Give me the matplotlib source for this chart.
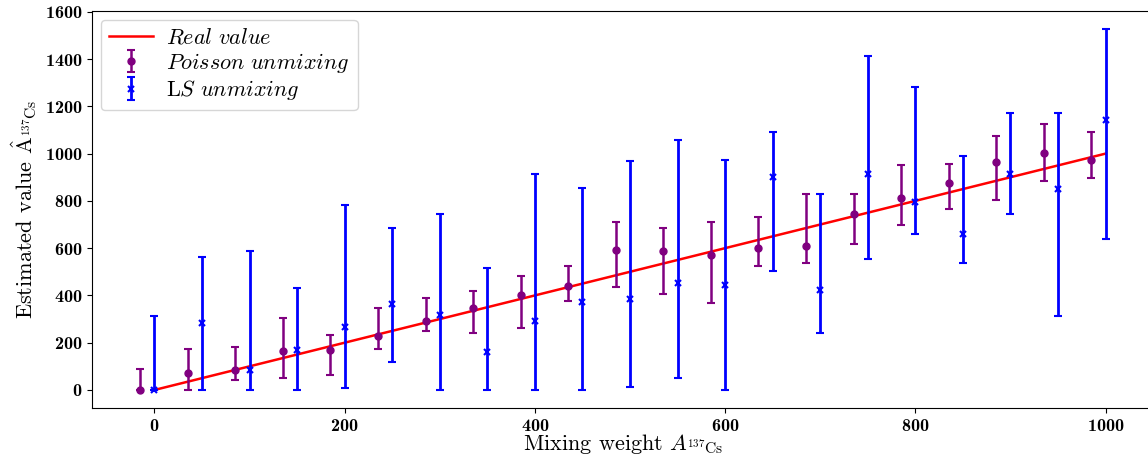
import matplotlib
matplotlib.use("Agg")
import matplotlib.pyplot as plt
import numpy as np

plt.rcParams["font.family"] = "serif"
plt.rcParams["font.serif"] = ["cmr10", "DejaVu Serif"]
plt.rcParams["mathtext.fontset"] = "cm"
plt.rcParams["axes.unicode_minus"] = False
plt.rcParams["axes.formatter.use_mathtext"] = True

# mixing weights
x_real = [0, 1000]
x_pois = [-15, 35, 85, 135, 185, 235, 285, 335, 385, 435, 485, 535, 585, 635, 685, 735, 785, 835, 885, 935, 985]
x_ls = [0, 50, 100, 150, 200, 250, 300, 350, 400, 450, 500, 550, 600, 650, 700, 750, 800, 850, 900, 950, 1000]

# Poisson unmixing estimates with lower/upper bounds
pois_val = [0, 73, 85, 165, 171, 229, 290, 345, 403, 441, 592, 588, 573, 602, 611, 743, 811, 874, 965, 1004, 975]
pois_low = [0, 0, 40, 50, 62, 175, 249, 243, 261, 378, 436, 407, 369, 524, 539, 617, 698, 765, 805, 883, 898]
pois_high = [89, 175, 181, 305, 233, 345, 387, 417, 484, 524, 712, 685, 712, 731, 830, 830, 951, 955, 1076, 1124, 1090]

# LS unmixing estimates with lower/upper bounds
ls_val = [0, 283, 85, 169, 268, 364, 318, 160, 292, 374, 384, 452, 446, 901, 421, 912, 794, 660, 912, 850, 1144]
ls_low = [0, 0, 0, 0, 7, 117, 0, 0, 0, 0, 11, 49, 0, 504, 243, 553, 660, 539, 743, 312, 640]
ls_high = [315, 561, 589, 431, 781, 685, 743, 518, 912, 853, 970, 1056, 975, 1092, 830, 1412, 1281, 989, 1172, 1172, 1527]

pois_val = np.array(pois_val)
ls_val = np.array(ls_val)
pois_err = [pois_val - np.array(pois_low), np.array(pois_high) - pois_val]
ls_err = [ls_val - np.array(ls_low), np.array(ls_high) - ls_val]

fig = plt.figure(figsize=(11.48, 4.55), dpi=100)
ax = fig.add_axes([0.0801, 0.1033, 0.925, 0.8725])

ax.plot(x_real, x_real, color="red", lw=1.8, label=r"$Real\ value$")
ax.errorbar(x_pois, pois_val, yerr=pois_err, fmt="o", color="purple", ms=5,
            elinewidth=1.8, capsize=3, capthick=1.5, label=r"$Poisson\ unmixing$")
ax.errorbar(x_ls, ls_val, yerr=ls_err, fmt="x", color="blue", ms=5, mew=1.5,
            elinewidth=2, capsize=3, capthick=1.5, label=r"L$S\ unmixing$")

ax.set_xticks([0, 200, 400, 600, 800, 1000])
ax.set_yticks(range(0, 1601, 200))
for lab in ax.get_xticklabels() + ax.get_yticklabels():
    lab.set_family("cmb10")
    lab.set_fontsize(13)
ax.set_xlabel(r"Mixing weight $A_{^{137}\mathrm{Cs}}$", fontsize=16, labelpad=-1)
ax.set_ylabel(r"Estimated value $\hat{\mathrm{A}}_{^{137}\mathrm{Cs}}$", fontsize=16)
ax.legend(loc="upper left", fontsize=16, handletextpad=0.6, borderaxespad=0.4,
          labelspacing=0.15, borderpad=0.35)

plt.savefig("out.png", dpi=100)
